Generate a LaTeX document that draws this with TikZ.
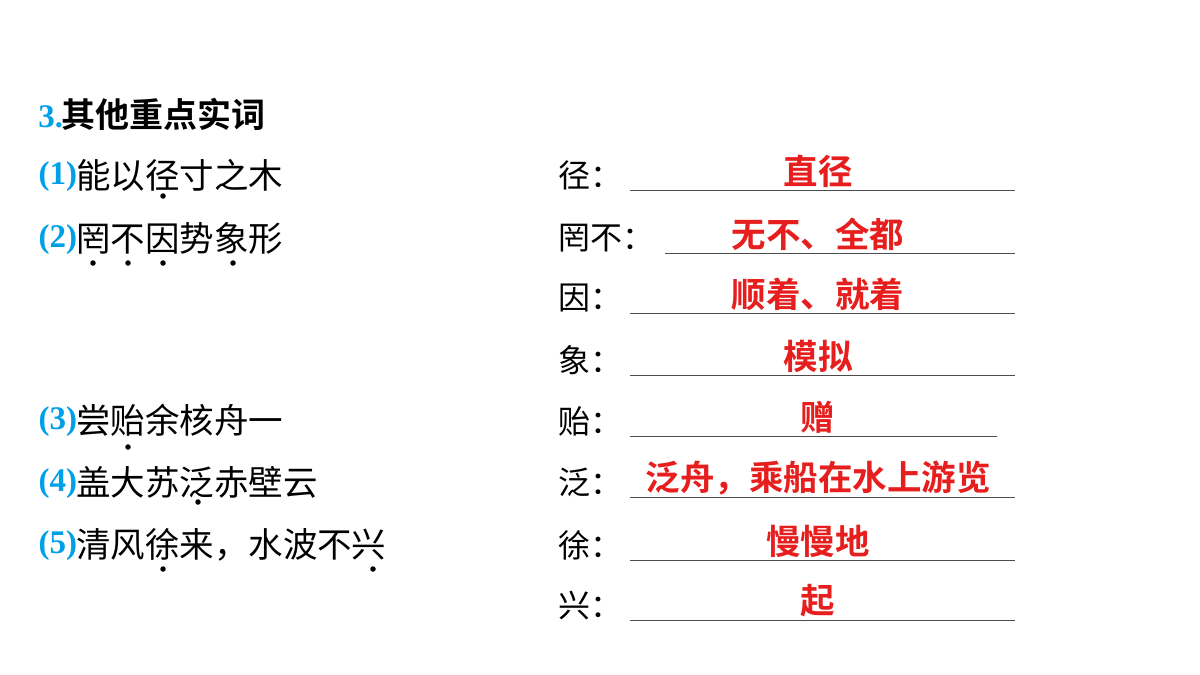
\documentclass[tikz,border=0pt]{standalone}
\usepackage{fontspec}
\newfontfamily\cjk{Noto Sans CJK SC}
\newfontfamily\cjkb{Noto Sans CJK SC Bold}
\setmainfont{Liberation Serif}
\definecolor{numblue}{RGB}{0,160,233}
\definecolor{ansred}{RGB}{230,30,30}
\begin{document}
\begin{tikzpicture}[x=1pt,y=-1pt,
  every node/.style={inner sep=0pt,outer sep=0pt},
  num/.style={anchor=east,font=\fontsize{33}{34}\selectfont\bfseries,text=numblue},
  txt/.style={anchor=west,font=\cjk\fontsize{34.5}{36}\selectfont},
  lab/.style={anchor=west,font=\cjk\fontsize{32}{34}\selectfont},
  ans/.style={font=\cjkb\fontsize{34.5}{36}\selectfont,text=ansred},
  uline/.style={line width=0.8pt,black!70},
  emdot/.style={fill=black,circle,minimum size=5.5pt}]
\useasboundingbox (0,0) rectangle (1200,675);
% title
\node[num] (t3) at (63,117) {3.};
\node[anchor=west,font=\cjkb\fontsize{34}{36}\selectfont] (title) at (61,114) {其他重点实词};
% left sentences
\node[num] (n1) at (77,177) {(1)};
\node[txt] (s1) at (76,175) {能以径寸之木};
\node[num] (n2) at (77,240) {(2)};
\node[txt] (s2) at (76,238) {罔不因势象形};
\node[num] (n3) at (77,422) {(3)};
\node[txt] (s3) at (76,420) {尝贻余核舟一};
\node[num] (n4) at (77,484) {(4)};
\node[txt] (s4) at (76,482) {盖大苏泛赤壁云};
\node[num] (n5) at (77,546) {(5)};
\node[txt] (s5) at (76,545) {清风徐来，水波不兴};
% emphasis dots
\foreach \x/\y [count=\i] in {163/196, 93/263, 128/263, 163/263, 233/263, 128/447, 198/502, 163/569, 373/569}
  \node[emdot] (d\i) at (\x,\y) {};
% right labels
\foreach \t/\y/\xs/\xe/\a [count=\i] in {径：/175/630/1015/直径, 罔不：/238/665/1015/无不、全都, 因：/298/630/1015/顺着、就着, 象：/360/630/1015/模拟, 贻：/421/630/997/赠, 泛：/482/630/1015/泛舟，乘船在水上游览, 徐：/545/630/1015/慢慢地, 兴：/605/630/1015/起}{
  \node[lab] (l\i) at (558,\y) {\t};
  \coordinate (a\i) at (\xs,\y+15);
  \coordinate (b\i) at (\xe,\y+15);
  \draw[uline] (a\i) -- (b\i);
  \node[ans] (r\i) at (818,\y-4) {\a};
}
\end{tikzpicture}
\end{document}
